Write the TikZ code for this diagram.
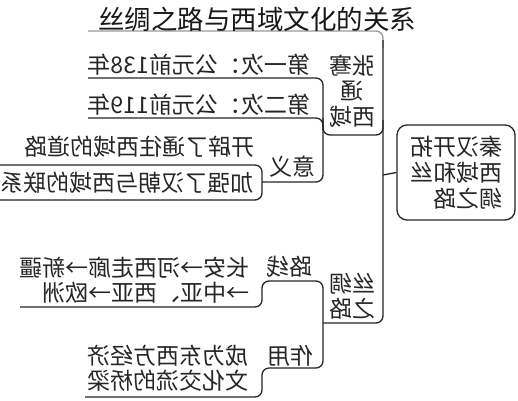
\documentclass[tikz,border=0pt]{standalone}
\usepackage{fontspec}
\setmainfont{Noto Sans CJK SC}
\begin{document}
\begin{tikzpicture}[x=1pt,y=-1pt,
  ln/.style={line width=1.3pt, draw=black!85, rounded corners=7pt},
  ghostln/.style={line width=1.3pt, draw=black!40, rounded corners=7pt},
  txt/.style={inner sep=0pt, xscale=-1, font=\fontsize{23}{25.5}\selectfont, text=black!85},
  txtl/.style={txt, align=left},
  txtc/.style={txt, align=center},
  rootbox/.style={draw=black!85, line width=1.3pt, rounded corners=10pt, minimum width=118pt, minimum height=95pt, inner sep=0pt, xscale=-1, align=left, font=\fontsize{23}{26}\selectfont, text=black!85}
]
\useasboundingbox (0,0) rectangle (518,400);
\fill[white] (0,0) rectangle (518,400);

% root
\node[rootbox] (root) at (456,172.5) {秦汉开拓\\西域和丝\\绸之路};

% level 1 labels
\node[txtc] (zq) at (352,91) {张骞\\通\\西域};
\node[txtc] (sc) at (352,296) {丝绸\\之路};

% level 2 labels
\node[txt] (d1) at (199,65) {第一次：公元前138年};
\node[txt] (d2) at (199,105) {第二次：公元前119年};
\node[txt] (yy) at (292,167) {意义};
\node[txt] (lx) at (289,267) {路线};
\node[txt] (zy) at (290,356) {作用};

% level 3 labels
\node[txt] (y1) at (139,147) {开辟了通往西域的道路};
\node[txt] (y2) at (127,183) {加强了汉朝与西域的联系};
\node[txtl] (lxt) at (134,280) {长安→河西走廊→新疆\\→中亚、西亚→欧洲};
\node[txtl] (zyt) at (168,368) {成为东西方经济\\文化交流的桥梁};

% coordinates of the connector lines
\coordinate (gl) at (88,31);
\coordinate (spt) at (383,31);
\coordinate (spg) at (383,48);
\coordinate (sp0) at (383,40);
\coordinate (spb) at (383,323);
\coordinate (scb) at (323,323);
\coordinate (rootj) at (383,175);
\coordinate (zqa) at (323,118);
\coordinate (zqb) at (323,135);
\coordinate (zqc) at (383,135);
\coordinate (zqd) at (383,120);
\coordinate (d1l) at (88,78);
\coordinate (d1r) at (323,78);
\coordinate (yyb) at (323,182);
\coordinate (yyl) at (262,182);
\coordinate (d2l) at (88,118);
\coordinate (d2r) at (323,118);
\coordinate (d2d) at (323,130);
\coordinate (y1l) at (0,165);
\coordinate (y1r) at (262,165);
\coordinate (y2r) at (262,200);
\coordinate (y2l) at (0,200);
\coordinate (lxl) at (20,307);
\coordinate (lxs) at (262,307);
\coordinate (lxu) at (262,281);
\coordinate (lxr) at (323,281);
\coordinate (zyr) at (323,368);
\coordinate (zys) at (262,368);
\coordinate (zyd) at (262,397);
\coordinate (zyl) at (85,397);

% ghost top line
\draw[ghostln] (gl) -- (spt) -- (spg);
% spine and 丝绸之路 underline
\draw[ln] (sp0) -- (spb) -- (scb);
% root connector
\draw[ln, rounded corners=0pt] (root.east) -- (rootj);
% 张骞通西域 underline
\draw[ln] (zqa) -- (zqb) -- (zqc) -- (zqd);
% 张骞 bracket with 第一次 and 意义
\draw[ln] (d1l) -- (d1r) -- (yyb) -- (yyl);
% 第二次
\draw[ln] (d2l) -- (d2r) -- (d2d);
% 意义 children
\draw[ln] (y1l) -- (y1r) -- (y2r) -- (y2l);
% 丝绸之路 bracket
\draw[ln] (lxl) -- (lxs) -- (lxu) -- (lxr) -- (zyr) -- (zys) -- (zyd) -- (zyl);

% title
\node[inner sep=0pt, font=\fontsize{26.5}{30}\selectfont, text=black!90] (title) at (257,19) {丝绸之路与西域文化的关系};
\end{tikzpicture}
\end{document}
